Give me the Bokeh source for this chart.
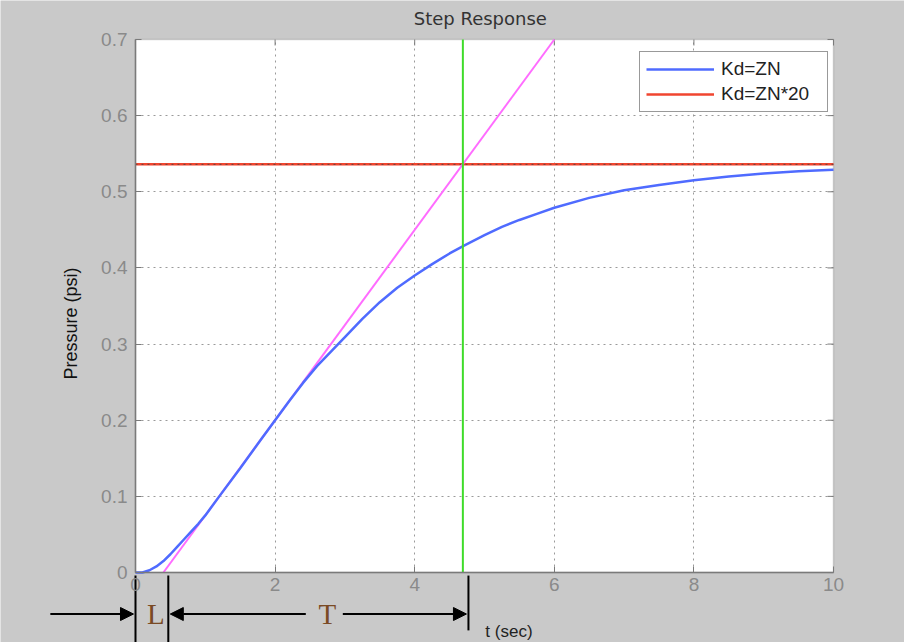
import numpy as np
from bokeh.plotting import figure
from bokeh.models import (Range1d, Label, Arrow, NormalHead, Legend, LegendItem,
                          FixedTicker, BoxAnnotation, LinearAxis, Grid)
from bokeh.embed import file_html
from bokeh.resources import INLINE

# ---- data ----
t_zn = [0.0, 0.1, 0.2, 0.3, 0.4, 0.5, 0.6, 0.7, 0.8, 0.9, 1.0, 1.2, 1.5, 1.8,
        2.0, 2.2, 2.4, 2.6, 2.8, 3.0, 3.25, 3.5, 3.75, 4.0, 4.25, 4.5, 4.7,
        5.0, 5.25, 5.5, 5.75, 6.0, 6.5, 7.0, 7.5, 8.0, 8.5, 9.0, 9.5, 10.0]
p_zn = [0.0, 0.0, 0.003, 0.008, 0.015, 0.024, 0.034, 0.044, 0.054, 0.064,
        0.075, 0.100, 0.137, 0.175, 0.200, 0.225, 0.249, 0.271, 0.290, 0.309,
        0.333, 0.355, 0.374, 0.390, 0.405, 0.419, 0.429, 0.443, 0.454, 0.463,
        0.471, 0.479, 0.492, 0.502, 0.509, 0.515, 0.520, 0.524, 0.527, 0.529]
t_zn20 = [0.0, 10.0]
p_zn20 = [0.536, 0.536]
tangent_t = [0.40, 6.0]
tangent_p = [0.0, 0.70]
t_cross = 4.69                     # green vertical line
x_lim = (0, 10)
y_lim = (0, 0.7)
x_ticks = [0, 2, 4, 6, 8, 10]
y_ticks = [0.0, 0.1, 0.2, 0.3, 0.4, 0.5, 0.6, 0.7]
y_tick_labels = ["0", "0.1", "0.2", "0.3", "0.4", "0.5", "0.6", "0.7"]
mark_t = [0.0, 0.47, 4.77]         # L / T marker lines under the axis
mark_low = [-0.0919, -0.0919, -0.076]
L_pos, T_pos = 0.29, 2.75
arrow_left_start = -1.22
T_arrow_gap = (2.44, 2.97)         # where the T arrows leave off around the letter

W, H = 904, 642
# the page shows a little more than the plotted axes so that the notes under the axis show
x_range = Range1d(-1.934, 11.017)
y_range = Range1d(-0.0919, 0.7512)
px_x = (x_range.end - x_range.start) / W
px_y = (y_range.end - y_range.start) / H

p = figure(width=W, height=H, x_range=x_range, y_range=y_range,
           output_backend="svg", toolbar_location=None,
           x_axis_type=None, y_axis_type=None,
           min_border=0, min_border_left=0, min_border_right=0,
           min_border_top=0, min_border_bottom=0)
p.background_fill_color = "#c9c9c9"
p.border_fill_color = "#c9c9c9"
p.outline_line_color = None
p.grid.visible = False

# white plotting box
p.add_layout(BoxAnnotation(left=x_lim[0], right=x_lim[1], bottom=y_lim[0], top=y_lim[1],
                           fill_color="white", fill_alpha=1, line_color="#7a7a7a",
                           line_width=1.5, level="image"))

xaxis = LinearAxis(fixed_location=y_lim[0], bounds=x_lim, ticker=FixedTicker(ticks=x_ticks))
yaxis = LinearAxis(fixed_location=x_lim[0], bounds=y_lim, ticker=FixedTicker(ticks=y_ticks),
                   major_label_overrides={v: s for v, s in zip(y_ticks, y_tick_labels)})
for ax in (xaxis, yaxis):
    ax.axis_line_color = "#7a7a7a"
    ax.axis_line_width = 1.5
    ax.major_tick_line_color = "#7a7a7a"
    ax.major_tick_in = 6
    ax.major_tick_out = 0
    ax.minor_tick_line_color = None
    ax.major_label_text_font = "Liberation Sans"
    ax.major_label_text_font_size = "19px"
    ax.major_label_text_color = "#8a8a8a"
xaxis.major_label_standoff = 5
yaxis.major_label_standoff = 8
p.add_layout(xaxis, "below")
p.add_layout(yaxis, "left")

# dotted grid inside the box
xg = Grid(dimension=0, ticker=FixedTicker(ticks=x_ticks[1:-1]), cross_bounds=y_lim,
          grid_line_color="#9a9a9a", grid_line_dash="2 4", grid_line_width=1)
yg = Grid(dimension=1, ticker=FixedTicker(ticks=y_ticks[1:-1]), cross_bounds=x_lim,
          grid_line_color="#9a9a9a", grid_line_dash="2 4", grid_line_width=1)
p.add_layout(xg)
p.add_layout(yg)

# mirrored inward ticks on top and right edges
tick_dy = 6 * px_y
tick_dx = 6 * px_x
p.segment(x0=x_ticks, y0=[y_lim[1]] * len(x_ticks), x1=x_ticks,
          y1=[y_lim[1] - tick_dy] * len(x_ticks), line_color="#7a7a7a", line_width=1)
p.segment(x0=[x_lim[1]] * len(y_ticks), y0=y_ticks, x1=[x_lim[1] - tick_dx] * len(y_ticks),
          y1=y_ticks, line_color="#7a7a7a", line_width=1)

# curves
r_zn20 = p.line(t_zn20, p_zn20, line_color="#f0452f", line_width=2.5)
p.line(t_zn20, p_zn20, line_color="#444444", line_width=1, line_dash="2 4", alpha=0.8)
p.line(tangent_t, tangent_p, line_color="#ff6cff", line_width=2)
r_zn = p.line(t_zn, p_zn, line_color="#4f6bff", line_width=2.5)
p.line([t_cross, t_cross], list(y_lim), line_color="#3fdc2a", line_width=2)

legend = Legend(items=[LegendItem(label="Kd=ZN", renderers=[r_zn]),
                       LegendItem(label="Kd=ZN*20", renderers=[r_zn20])],
                location=(639, 530))
legend.label_text_font = "Liberation Sans"
legend.label_text_font_size = "19px"
legend.label_text_color = "#222222"
legend.padding = 6
legend.spacing = 3
legend.glyph_height = 22
legend.label_height = 22
legend.glyph_width = 68
legend.label_width = 100
legend.label_standoff = 7
legend.border_line_color = "#333333"
legend.border_line_width = 1.5
legend.background_fill_color = "white"
legend.background_fill_alpha = 1
legend.margin = 0
p.add_layout(legend)

# title and axis labels
p.add_layout(Label(x=4.94, y=0.7276, text="Step Response", text_font="DejaVu Sans",
                   text_font_size="18px", text_color="#333333",
                   text_align="center", text_baseline="middle"))
p.add_layout(Label(x=-0.93, y=0.327, text="Pressure (psi)", angle=np.pi / 2,
                   text_font="Liberation Sans", text_font_size="18px", text_color="#111111",
                   text_align="center", text_baseline="middle"))
p.add_layout(Label(x=5.35, y=-0.078, text="t (sec)", text_font="Liberation Sans",
                   text_font_size="17px", text_color="#222222",
                   text_align="center", text_baseline="middle"))

# L / T annotation under the axis
y_arrow = -0.0545
p.segment(x0=mark_t, y0=[-0.004] * 3, x1=mark_t, y1=mark_low,
          line_color="black", line_width=2)
head = dict(size=13, fill_color="black", line_color="black")
p.add_layout(Arrow(x_start=arrow_left_start, y_start=y_arrow, x_end=mark_t[0] - 2 * px_x,
                   y_end=y_arrow, end=NormalHead(**head), line_color="black", line_width=2))
p.add_layout(Arrow(x_start=T_arrow_gap[0], y_start=y_arrow, x_end=mark_t[1] + 2 * px_x,
                   y_end=y_arrow, end=NormalHead(**head), line_color="black", line_width=2))
p.add_layout(Arrow(x_start=T_arrow_gap[1], y_start=y_arrow, x_end=mark_t[2] - 2 * px_x,
                   y_end=y_arrow, end=NormalHead(**head), line_color="black", line_width=2))
for txt, xp in (("L", L_pos), ("T", T_pos)):
    p.add_layout(Label(x=xp, y=y_arrow, text=txt, text_font="Liberation Serif",
                       text_font_size="29px", text_color="#7a4a24",
                       text_align="center", text_baseline="middle"))

open("out.html", "w").write(file_html(p, INLINE))
